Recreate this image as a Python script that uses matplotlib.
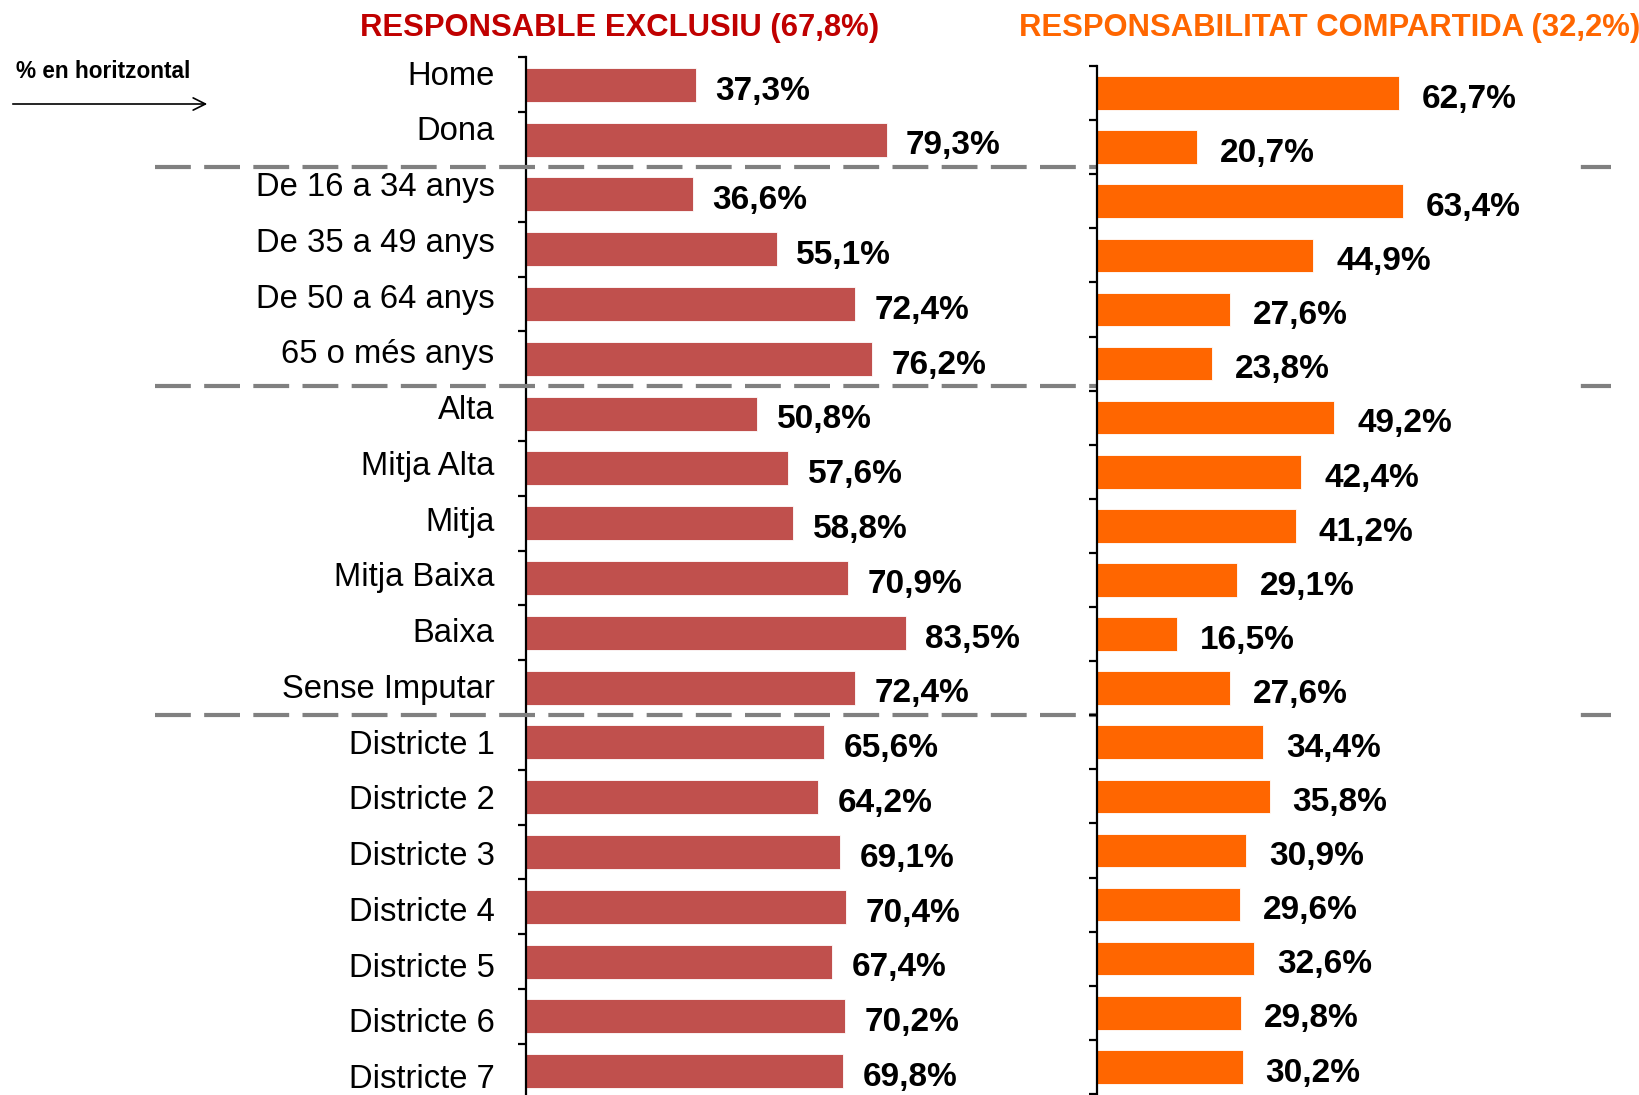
import matplotlib
matplotlib.use("Agg")
import matplotlib.pyplot as plt
from matplotlib import font_manager
from matplotlib.transforms import blended_transform_factory

categories = ["Home", "Dona",
              "De 16 a 34 anys", "De 35 a 49 anys", "De 50 a 64 anys", "65 o més anys",
              "Alta", "Mitja Alta", "Mitja", "Mitja Baixa", "Baixa", "Sense Imputar",
              "Districte 1", "Districte 2", "Districte 3", "Districte 4",
              "Districte 5", "Districte 6", "Districte 7"]
exclusiu = [37.3, 79.3, 36.6, 55.1, 72.4, 76.2, 50.8, 57.6, 58.8, 70.9, 83.5, 72.4,
            65.6, 64.2, 69.1, 70.4, 67.4, 70.2, 69.8]
compartida = [62.7, 20.7, 63.4, 44.9, 27.6, 23.8, 49.2, 42.4, 41.2, 29.1, 16.5, 27.6,
              34.4, 35.8, 30.9, 29.6, 32.6, 29.8, 30.2]
# group separators fall after these rows
separators = [1.5, 5.5, 11.5]
title_left = "RESPONSABLE EXCLUSIU (67,8%)"
title_right = "RESPONSABILITAT COMPARTIDA (32,2%)"


def pick_font(names):
    have = {f.name for f in font_manager.fontManager.ttflist}
    for n in names:
        if n in have:
            return n
    return "DejaVu Sans"


base_font = pick_font(["Liberation Sans", "Arial"])
narrow_font = pick_font(["Liberation Sans Narrow", "DejaVu Sans Condensed", "Liberation Sans"])
plt.rcParams["font.family"] = base_font


def fmt(v):
    return f"{v:.1f}%".replace(".", ",")


W, H = 1640, 1095
fig = plt.figure(figsize=(W / 100, H / 100), dpi=100)

# left panel: 0 at x=526.5px, 4.54 px per %, rows 54.8 px
ax1 = fig.add_axes([526.5 / W, (H - 1098.6) / H, 454 / W, 1041.2 / H])
# right panel: 0 at x=1097px, 4.8 px per %, rows 54.1 px
ax2 = fig.add_axes([1097 / W, (H - 1093.9) / H, 482 / W, 1027.9 / H])

n = len(categories)
rows = list(range(n))

panels = [(ax1, exclusiu, "#C0504D", 14), (ax2, compartida, "#FF6600", 16.5)]
for ax, vals, color, gap in panels:
    ax.barh(rows, vals, height=0.62, color=color, edgecolor="white", linewidth=0.6)
    ax.set_xlim(0, 100)
    ax.set_ylim(n - 0.5, -0.5)
    for s in ["top", "right", "bottom"]:
        ax.spines[s].set_visible(False)
    ax.spines["left"].set_linewidth(1.6)
    ax.set_xticks([])
    ax.set_yticks([i - 0.5 for i in range(n + 1)])
    ax.set_yticklabels([])
    ax.tick_params(axis="y", direction="out", length=6, width=1.6)
    for i, v in enumerate(vals):
        ax.annotate(fmt(v), xy=(v, i), xytext=(gap, -4.5), textcoords="offset points",
                    ha="left", va="center", fontsize=24, fontweight="bold",
                    family=narrow_font, color="black", annotation_clip=False)

# category labels, slightly different spacing than the bars (as in the original)
for i, c in enumerate(categories):
    ax1.annotate(c, xy=(0, -0.213 + 1.0173 * i), xycoords=("axes fraction", "data"),
                 xytext=(-23, -2.2), textcoords="offset points",
                 ha="right", va="center", fontsize=23.6, annotation_clip=False)

# dashed group separators across the whole figure
tr = blended_transform_factory(fig.transFigure, ax1.transData)
for y in separators:
    ax1.plot([155 / W, 1611 / W], [y, y], transform=tr, color="#808080", lw=3,
             linestyle=(0, (8.6, 3.2)), clip_on=False, zorder=5)

fig.text(620 / W, 1 - 28 / H, title_left, ha="center", va="center",
         fontsize=22.3, fontweight="bold", color="#C00000")
fig.text(1330 / W, 1 - 28 / H, title_right, ha="center", va="center",
         fontsize=22.3, fontweight="bold", color="#FF6600")

fig.text(16 / W, 1 - 72 / H, "% en horitzontal", ha="left", va="center",
         fontsize=16.3, fontweight="bold")
fig.add_artist(matplotlib.patches.FancyArrowPatch(
    (10 / W, 1 - 104 / H), (210 / W, 1 - 104 / H), transform=fig.transFigure,
    arrowstyle="->", mutation_scale=22, lw=1.2, color="black"))

fig.savefig("out.png", dpi=100, facecolor="white")
